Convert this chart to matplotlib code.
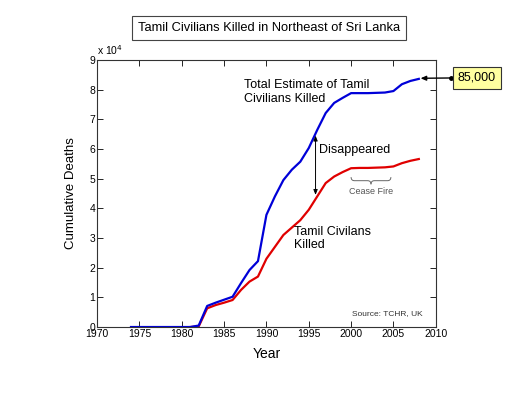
import numpy as np
import matplotlib
matplotlib.use('Agg')
import matplotlib.pyplot as plt
from matplotlib.path import Path
from matplotlib.patches import PathPatch

plt.rcParams['font.family'] = ['Liberation Sans', 'DejaVu Sans']

# Cumulative deaths, in units of 10^4
years_total = [1974, 1981, 1982, 1983, 1984, 1985, 1986, 1987, 1988, 1989,
               1990, 1991, 1992, 1993, 1994, 1995, 1996, 1997, 1998, 1999,
               2000, 2001, 2002, 2003, 2004, 2005, 2006, 2007, 2008]
total_est = [0, 0, 0.05, 0.71, 0.82, 0.92, 1.02, 1.48, 1.92, 2.22,
             3.78, 4.40, 4.95, 5.30, 5.57, 6.03, 6.64, 7.21, 7.55, 7.72,
             7.88, 7.88, 7.88, 7.89, 7.90, 7.95, 8.18, 8.29, 8.36]

years_killed = [1981, 1982, 1983, 1984, 1985, 1986, 1987, 1988, 1989,
                1990, 1991, 1992, 1993, 1994, 1995, 1996, 1997, 1998, 1999,
                2000, 2001, 2002, 2003, 2004, 2005, 2006, 2007, 2008]
killed = [0, 0.02, 0.63, 0.74, 0.82, 0.91, 1.25, 1.53, 1.70,
          2.30, 2.70, 3.10, 3.35, 3.60, 3.95, 4.40, 4.85, 5.07, 5.22,
          5.35, 5.36, 5.36, 5.37, 5.38, 5.41, 5.52, 5.60, 5.66]

xticks = [1970, 1975, 1980, 1985, 1990, 1995, 2000, 2005, 2010]
yticks = [0, 1, 2, 3, 4, 5, 6, 7, 8, 9]

fig = plt.figure(figsize=(5.25, 3.94), dpi=100)
ax = fig.add_axes([0.185, 0.170, 0.645, 0.678])

ax.plot(years_killed, killed, color='#e00000', linewidth=1.6)
ax.plot(years_total, total_est, color='#0000d8', linewidth=1.6)

ax.set_xlim(1970, 2010)
ax.set_ylim(0, 9)
ax.set_xticks(xticks)
ax.set_yticks(yticks)
ax.tick_params(direction='in', top=True, right=True, length=4, width=0.6,
               labelsize=7.5, pad=1.5)
for s in ax.spines.values():
    s.set_linewidth(0.8)
    s.set_color('#333333')

ax.set_xlabel('Year', fontsize=10, labelpad=6)
ax.set_ylabel('Cumulative Deaths', fontsize=9.5, labelpad=9)
ax.text(0.0, 1.01, 'x 10$^4$', transform=ax.transAxes, fontsize=7.5,
        ha='left', va='bottom')

# title box
fig.text(0.512, 0.929, 'Tamil Civilians Killed in Northeast of Sri Lanka',
         ha='center', va='center', fontsize=9.3,
         bbox=dict(boxstyle='square,pad=0.45', facecolor='white',
                   edgecolor='#444444', linewidth=0.8))

# labels on the curves
ax.text(1987.3, 8.35, 'Total Estimate of Tamil\nCivilians Killed',
        fontsize=9, va='top', ha='left', linespacing=1.15)
ax.text(1993.3, 3.40, 'Tamil Civilans\nKilled', fontsize=9, va='top',
        ha='left', linespacing=1.15)
ax.text(1996.2, 5.97, 'Disappeared', fontsize=9, va='center', ha='left')

ax.annotate('', xy=(1995.8, 6.45), xytext=(1995.8, 4.45),
            arrowprops=dict(arrowstyle='<|-|>,head_length=0.3,head_width=0.12',
                            color='black', linewidth=0.7,
                            shrinkA=0, shrinkB=0))

# cease fire brace
x0, x1, yb, h = 2000.0, 2004.7, 5.05, 0.12
xm = (x0 + x1) / 2
codes = [Path.MOVETO, Path.CURVE3, Path.CURVE3, Path.LINETO,
         Path.CURVE3, Path.CURVE3]
left_half = [(x0, yb), (x0, yb - h), (x0 + 0.4, yb - h), (xm - 0.4, yb - h),
             (xm, yb - h), (xm, yb - 2 * h)]
right_half = [(x1, yb), (x1, yb - h), (x1 - 0.4, yb - h), (xm + 0.4, yb - h),
              (xm, yb - h), (xm, yb - 2 * h)]
for v in (left_half, right_half):
    ax.add_patch(PathPatch(Path(v, codes), facecolor='none',
                           edgecolor='#666666', linewidth=0.7))
ax.text(xm, 4.55, 'Cease Fire', fontsize=6.5, color='#555555',
        ha='center', va='center')

ax.text(2008.5, 0.47, 'Source: TCHR, UK', fontsize=6, color='#333333',
        ha='right', va='center')

# 85,000 callout
ax.annotate('85,000', xy=(2008.2, 8.38), xytext=(2014.85, 8.40),
            fontsize=9, ha='center', va='center', annotation_clip=False,
            bbox=dict(boxstyle='square,pad=0.4', facecolor='#ffffa0',
                      edgecolor='#333333', linewidth=0.8),
            arrowprops=dict(arrowstyle='-|>,head_length=0.35,head_width=0.15',
                            color='black', linewidth=1.0, shrinkA=0,
                            shrinkB=0))
ax.plot([2011.8], [8.38], marker='o', markersize=2.5, color='black',
        clip_on=False)

fig.savefig('out.png', dpi=100)
